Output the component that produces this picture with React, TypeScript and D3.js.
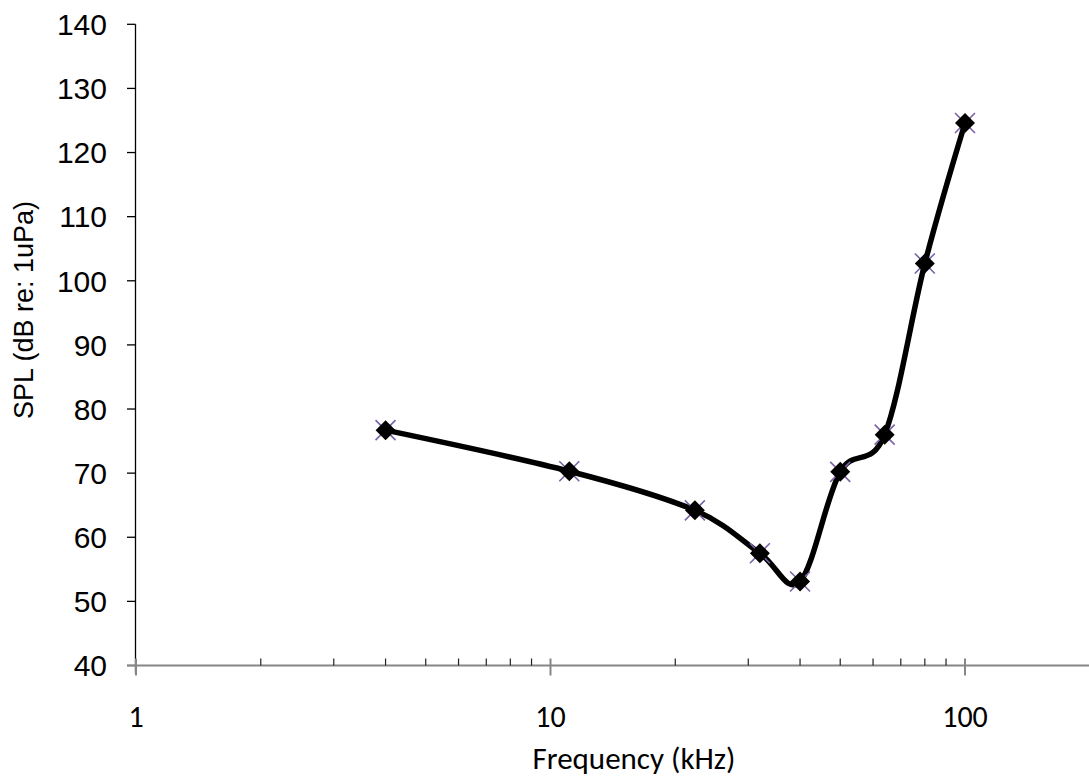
import React, { useEffect, useRef } from 'react';
import * as d3 from 'd3';

// frequencies (kHz) and thresholds (dB re: 1uPa)
const freqs = [4, 11.1, 22.3, 32, 40, 50, 64, 80, 100];
const spl = [76.7, 70.3, 64.2, 57.5, 53.1, 70.2, 76.0, 102.7, 124.6];

const yTicks = [40, 50, 60, 70, 80, 90, 100, 110, 120, 130, 140];
const xMajor = [1, 10, 100];
const xMinor = [2, 3, 4, 5, 6, 7, 8, 9, 20, 30, 40, 50, 60, 70, 80, 90];

const width = 1089;
const height = 777;

function App() {
  const svgRef = useRef<SVGSVGElement>(null);

  useEffect(() => {
    const svg = d3.select(svgRef.current);
    svg.selectAll('*').remove();

    const xScale = d3.scaleLog().domain([1, 200]).range([136, 136 + 414.5 * Math.log10(200)]);
    const yScale = d3.scaleLinear().domain([40, 140]).range([665.5, 24.3]);
    const y0 = yScale(40);

    // y axis
    const yAxis = svg.append('g');
    yAxis.append('line')
      .attr('x1', 135.5).attr('x2', 135.5)
      .attr('y1', yScale(140)).attr('y2', y0 + 8)
      .attr('stroke', '#000').attr('stroke-width', 1.3);
    yAxis.selectAll('.yt')
      .data(yTicks)
      .join('line')
      .attr('x1', 127).attr('x2', 135.5)
      .attr('y1', d => yScale(d)).attr('y2', d => yScale(d))
      .attr('stroke', '#000').attr('stroke-width', 1.3);
    yAxis.selectAll('text')
      .data(yTicks)
      .join('text')
      .attr('x', 107)
      .attr('y', d => yScale(d))
      .attr('dy', '0.36em')
      .attr('text-anchor', 'end')
      .attr('font-family', 'Liberation Sans, Arial, sans-serif')
      .attr('font-size', 30)
      .attr('fill', '#000')
      .text(d => d);

    // x axis
    const xAxis = svg.append('g');
    xAxis.append('line')
      .attr('x1', 127).attr('x2', width)
      .attr('y1', y0).attr('y2', y0)
      .attr('stroke', '#868686').attr('stroke-width', 2);
    xAxis.selectAll('.minor')
      .data(xMinor)
      .join('line')
      .attr('class', 'minor')
      .attr('x1', d => xScale(d)).attr('x2', d => xScale(d))
      .attr('y1', y0 - 7).attr('y2', y0)
      .attr('stroke', '#222').attr('stroke-width', 1.2);
    xAxis.selectAll('.major')
      .data(xMajor)
      .join('line')
      .attr('class', 'major')
      .attr('x1', d => xScale(d)).attr('x2', d => xScale(d))
      .attr('y1', y0 - 7).attr('y2', y0 + 10)
      .attr('stroke', '#868686').attr('stroke-width', 2);
    xAxis.selectAll('text')
      .data(xMajor)
      .join('text')
      .attr('x', d => xScale(d))
      .attr('y', 727)
      .attr('text-anchor', 'middle')
      .attr('font-family', 'Carlito, Lato, sans-serif')
      .attr('font-size', 30)
      .attr('fill', '#000')
      .text(d => d);

    // titles
    svg.append('text')
      .attr('x', 634).attr('y', 769)
      .attr('text-anchor', 'middle')
      .attr('font-family', 'Carlito, Lato, sans-serif')
      .attr('font-size', 31)
      .attr('fill', '#000')
      .text('Frequency (kHz)');
    svg.append('text')
      .attr('transform', 'translate(33,310) rotate(-90)')
      .attr('text-anchor', 'middle')
      .attr('font-family', 'Liberation Sans, Arial, sans-serif')
      .attr('font-size', 27)
      .attr('fill', '#000')
      .text('SPL (dB re: 1uPa)');

    const pts = freqs.map((f, i) => [xScale(f), yScale(spl[i])] as [number, number]);

    // smoothed line
    const line = d3.line().curve(d3.curveCatmullRom.alpha(0));
    svg.append('path')
      .attr('d', line(pts))
      .attr('fill', 'none')
      .attr('stroke', '#000')
      .attr('stroke-width', 5.5)
      .attr('stroke-linejoin', 'round');

    // purple cross markers underneath
    svg.selectAll('.cross')
      .data(pts)
      .join('path')
      .attr('class', 'cross')
      .attr('transform', d => `translate(${d[0]},${d[1]})`)
      .attr('d', 'M-10,-10L10,10M-10,10L10,-10')
      .attr('stroke', '#7a62a8')
      .attr('stroke-width', 1.6);

    // black diamonds
    const diamond = d3.symbol().type(d3.symbolSquare).size(200);
    svg.selectAll('.dia')
      .data(pts)
      .join('path')
      .attr('class', 'dia')
      .attr('transform', d => `translate(${d[0]},${d[1]}) rotate(45)`)
      .attr('d', diamond())
      .attr('fill', '#000');
  }, []);

  return (
    <svg ref={svgRef} width={width} height={height}
      style={{ position: 'absolute', left: 0, top: 0, background: '#fff' }} />
  );
}

export default App;
